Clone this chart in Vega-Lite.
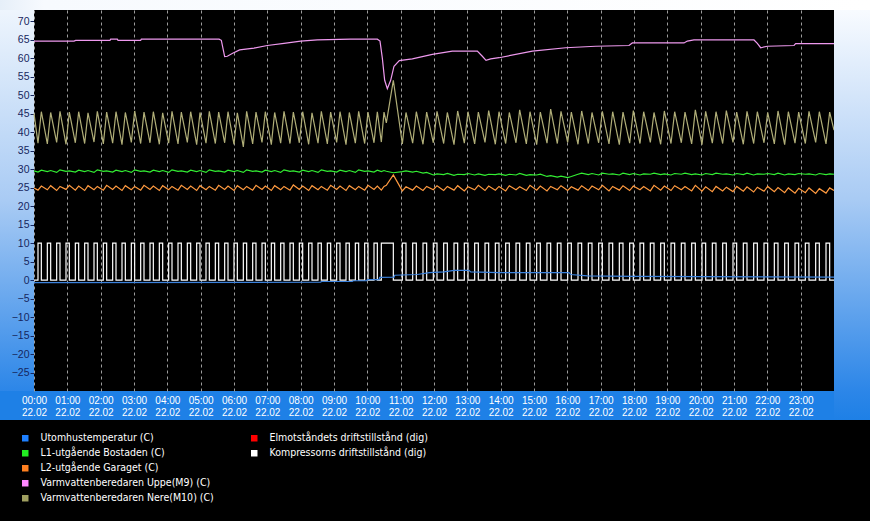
{
  "$schema": "https://vega.github.io/schema/vega-lite/v6.json",
  "background": "#1e80e6",
  "padding": {"left": 0, "top": 0, "right": 0, "bottom": 0},
  "config": {"view": {"stroke": null}},
  "datasets": {
    "ute": [
      {"t": 0, "v": -0.7}, {"t": 8.6, "v": -0.6}, {"t": 8.62, "v": -0.4}, {"t": 9.55, "v": -0.4}, {"t": 9.57, "v": -0.2},
      {"t": 9.98, "v": -0.2}, {"t": 10.0, "v": 0.1}, {"t": 10.35, "v": 0.1}, {"t": 10.37, "v": 0.7}, {"t": 10.8, "v": 0.8},
      {"t": 10.82, "v": 1.3}, {"t": 11.5, "v": 1.5}, {"t": 11.86, "v": 2.0}, {"t": 12.3, "v": 2.2}, {"t": 12.6, "v": 2.6},
      {"t": 13.05, "v": 2.6}, {"t": 13.1, "v": 2.2}, {"t": 13.95, "v": 2.0}, {"t": 16.05, "v": 2.0}, {"t": 16.1, "v": 1.5},
      {"t": 16.6, "v": 1.1}, {"t": 18.0, "v": 1.0}, {"t": 20.0, "v": 0.9}, {"t": 24.0, "v": 0.8}
    ],
    "m9": [
      {"t": 0, "v": 64.6}, {"t": 1.2, "v": 64.6}, {"t": 1.25, "v": 64.8}, {"t": 2.28, "v": 64.8}, {"t": 2.3, "v": 65.1},
      {"t": 2.5, "v": 65.1}, {"t": 2.52, "v": 64.8}, {"t": 3.2, "v": 64.8}, {"t": 3.22, "v": 65.1}, {"t": 5.55, "v": 65.1},
      {"t": 5.62, "v": 64.8}, {"t": 5.72, "v": 60.4}, {"t": 5.8, "v": 60.5}, {"t": 5.96, "v": 61.3}, {"t": 6.17, "v": 62.2},
      {"t": 6.6, "v": 62.7}, {"t": 7.0, "v": 63.4}, {"t": 7.5, "v": 64.0}, {"t": 8.0, "v": 64.6}, {"t": 8.5, "v": 64.9},
      {"t": 9.5, "v": 65.1}, {"t": 10.3, "v": 65.1}, {"t": 10.38, "v": 64.6}, {"t": 10.45, "v": 60.0}, {"t": 10.52, "v": 54.0},
      {"t": 10.6, "v": 51.7}, {"t": 10.7, "v": 54.0}, {"t": 10.8, "v": 57.8}, {"t": 10.96, "v": 59.3}, {"t": 11.35, "v": 59.8},
      {"t": 11.95, "v": 61.0}, {"t": 12.55, "v": 61.9}, {"t": 13.3, "v": 61.9}, {"t": 13.45, "v": 60.5}, {"t": 13.56, "v": 59.4},
      {"t": 13.7, "v": 59.8}, {"t": 13.95, "v": 60.1}, {"t": 14.95, "v": 61.9}, {"t": 15.95, "v": 62.8}, {"t": 16.85, "v": 63.2},
      {"t": 17.85, "v": 63.4}, {"t": 17.95, "v": 64.1}, {"t": 19.5, "v": 64.1}, {"t": 19.6, "v": 64.6}, {"t": 19.8, "v": 64.9},
      {"t": 21.6, "v": 64.9}, {"t": 21.7, "v": 64.0}, {"t": 21.8, "v": 62.8}, {"t": 22.0, "v": 63.2}, {"t": 22.8, "v": 63.4},
      {"t": 22.85, "v": 63.9}, {"t": 24.0, "v": 63.9}
    ],
    "cyc": [
      {"t": 0, "komp": 0, "nere": 45.0, "l2": 24.9, "l1": 29.5},
      {"t": 0.12, "komp": 10, "nere": 37.0, "l2": 24.3, "l1": 29.2}, {"t": 0.22, "komp": 0, "nere": 45.5, "l2": 25.4, "l1": 29.7},
      {"t": 0.40, "komp": 10, "nere": 36.8, "l2": 24.4, "l1": 29.3}, {"t": 0.50, "komp": 0, "nere": 45.3, "l2": 25.5, "l1": 29.6},
      {"t": 0.68, "komp": 10, "nere": 37.2, "l2": 24.2, "l1": 29.1}, {"t": 0.78, "komp": 0, "nere": 45.6, "l2": 25.3, "l1": 29.8},
      {"t": 0.96, "komp": 10, "nere": 36.7, "l2": 24.5, "l1": 29.4}, {"t": 1.06, "komp": 0, "nere": 45.4, "l2": 25.6, "l1": 29.5},
      {"t": 1.24, "komp": 10, "nere": 37.1, "l2": 24.3, "l1": 29.2}, {"t": 1.34, "komp": 0, "nere": 45.5, "l2": 25.4, "l1": 29.7},
      {"t": 1.52, "komp": 10, "nere": 36.9, "l2": 24.2, "l1": 29.3}, {"t": 1.62, "komp": 0, "nere": 45.2, "l2": 25.5, "l1": 29.6},
      {"t": 1.80, "komp": 10, "nere": 37.3, "l2": 24.4, "l1": 29.1}, {"t": 1.90, "komp": 0, "nere": 45.6, "l2": 25.3, "l1": 29.8},
      {"t": 2.08, "komp": 10, "nere": 36.8, "l2": 24.3, "l1": 29.4}, {"t": 2.18, "komp": 0, "nere": 45.4, "l2": 25.6, "l1": 29.5},
      {"t": 2.36, "komp": 10, "nere": 37.0, "l2": 24.5, "l1": 29.2}, {"t": 2.46, "komp": 0, "nere": 45.5, "l2": 25.4, "l1": 29.7},
      {"t": 2.64, "komp": 10, "nere": 36.6, "l2": 24.2, "l1": 29.3}, {"t": 2.74, "komp": 0, "nere": 45.3, "l2": 25.5, "l1": 29.6},
      {"t": 2.92, "komp": 10, "nere": 37.2, "l2": 24.4, "l1": 29.1}, {"t": 3.02, "komp": 0, "nere": 45.7, "l2": 25.3, "l1": 29.8},
      {"t": 3.20, "komp": 10, "nere": 36.9, "l2": 24.3, "l1": 29.4}, {"t": 3.30, "komp": 0, "nere": 45.4, "l2": 25.6, "l1": 29.5},
      {"t": 3.48, "komp": 10, "nere": 37.1, "l2": 24.5, "l1": 29.2}, {"t": 3.58, "komp": 0, "nere": 45.5, "l2": 25.4, "l1": 29.7},
      {"t": 3.76, "komp": 10, "nere": 36.7, "l2": 24.2, "l1": 29.3}, {"t": 3.86, "komp": 0, "nere": 45.2, "l2": 25.5, "l1": 29.6},
      {"t": 4.04, "komp": 10, "nere": 37.0, "l2": 24.4, "l1": 29.1}, {"t": 4.14, "komp": 0, "nere": 45.6, "l2": 25.3, "l1": 29.8},
      {"t": 4.32, "komp": 10, "nere": 36.8, "l2": 24.3, "l1": 29.4}, {"t": 4.42, "komp": 0, "nere": 45.4, "l2": 25.6, "l1": 29.5},
      {"t": 4.60, "komp": 10, "nere": 37.2, "l2": 24.5, "l1": 29.2}, {"t": 4.70, "komp": 0, "nere": 45.5, "l2": 25.4, "l1": 29.7},
      {"t": 4.88, "komp": 10, "nere": 36.6, "l2": 24.2, "l1": 29.3}, {"t": 4.98, "komp": 0, "nere": 45.3, "l2": 25.5, "l1": 29.6},
      {"t": 5.16, "komp": 10, "nere": 37.0, "l2": 24.4, "l1": 29.1}, {"t": 5.26, "komp": 0, "nere": 45.6, "l2": 25.3, "l1": 29.8},
      {"t": 5.44, "komp": 10, "nere": 36.9, "l2": 24.3, "l1": 29.4}, {"t": 5.54, "komp": 0, "nere": 45.4, "l2": 25.6, "l1": 29.5},
      {"t": 5.72, "komp": 10, "nere": 37.1, "l2": 24.5, "l1": 29.2}, {"t": 5.82, "komp": 0, "nere": 45.5, "l2": 25.4, "l1": 29.7},
      {"t": 6.00, "komp": 10, "nere": 36.7, "l2": 24.2, "l1": 29.3}, {"t": 6.10, "komp": 0, "nere": 45.2, "l2": 25.5, "l1": 29.6},
      {"t": 6.28, "komp": 10, "nere": 36.0, "l2": 24.4, "l1": 29.1}, {"t": 6.38, "komp": 0, "nere": 45.6, "l2": 25.3, "l1": 29.8},
      {"t": 6.56, "komp": 10, "nere": 36.8, "l2": 24.3, "l1": 29.4}, {"t": 6.66, "komp": 0, "nere": 45.4, "l2": 25.6, "l1": 29.5},
      {"t": 6.84, "komp": 10, "nere": 37.2, "l2": 24.5, "l1": 29.2}, {"t": 6.94, "komp": 0, "nere": 45.5, "l2": 25.4, "l1": 29.7},
      {"t": 7.12, "komp": 10, "nere": 36.6, "l2": 24.2, "l1": 29.3}, {"t": 7.22, "komp": 0, "nere": 45.3, "l2": 25.5, "l1": 29.6},
      {"t": 7.40, "komp": 10, "nere": 37.0, "l2": 24.4, "l1": 29.1}, {"t": 7.50, "komp": 0, "nere": 45.6, "l2": 25.3, "l1": 29.8},
      {"t": 7.68, "komp": 10, "nere": 36.9, "l2": 24.3, "l1": 29.4}, {"t": 7.78, "komp": 0, "nere": 45.4, "l2": 25.7, "l1": 29.5},
      {"t": 7.96, "komp": 10, "nere": 37.1, "l2": 24.5, "l1": 29.2}, {"t": 8.06, "komp": 0, "nere": 45.5, "l2": 25.4, "l1": 29.7},
      {"t": 8.24, "komp": 10, "nere": 36.7, "l2": 24.2, "l1": 29.3}, {"t": 8.34, "komp": 0, "nere": 45.2, "l2": 25.5, "l1": 29.6},
      {"t": 8.52, "komp": 10, "nere": 37.0, "l2": 24.4, "l1": 29.1}, {"t": 8.62, "komp": 0, "nere": 45.6, "l2": 25.3, "l1": 29.8},
      {"t": 8.80, "komp": 10, "nere": 36.8, "l2": 24.3, "l1": 29.4}, {"t": 8.90, "komp": 0, "nere": 45.4, "l2": 25.6, "l1": 29.5},
      {"t": 9.08, "komp": 10, "nere": 37.2, "l2": 24.5, "l1": 29.2}, {"t": 9.18, "komp": 0, "nere": 45.5, "l2": 25.4, "l1": 29.7},
      {"t": 9.36, "komp": 10, "nere": 36.6, "l2": 24.2, "l1": 29.3}, {"t": 9.46, "komp": 0, "nere": 45.3, "l2": 25.5, "l1": 29.6},
      {"t": 9.64, "komp": 10, "nere": 37.0, "l2": 24.4, "l1": 29.1}, {"t": 9.74, "komp": 0, "nere": 45.6, "l2": 25.3, "l1": 29.8},
      {"t": 9.92, "komp": 10, "nere": 36.9, "l2": 24.3, "l1": 29.4}, {"t": 10.02, "komp": 0, "nere": 45.4, "l2": 25.6, "l1": 29.5},
      {"t": 10.20, "komp": 10, "nere": 37.1, "l2": 24.5, "l1": 29.2}, {"t": 10.30, "komp": 0, "nere": 45.5, "l2": 25.4, "l1": 29.7},
      {"t": 10.42, "komp": 10, "nere": 37.3, "l2": 24.3, "l1": 29.3}, {"t": 10.50, "komp": 10, "nere": 45.4, "l2": 25.3, "l1": 29.6},
      {"t": 10.57, "komp": 10, "nere": 42.5, "l2": 25.6, "l1": 29.4}, {"t": 10.78, "komp": 0, "nere": 54.0, "l2": 28.4, "l1": 29.0},
      {"t": 11.05, "komp": 10, "nere": 36.8, "l2": 24.1, "l1": 29.3}, {"t": 11.16, "komp": 0, "nere": 45.3, "l2": 25.2, "l1": 29.5},
      {"t": 11.36, "komp": 10, "nere": 37.0, "l2": 24.3, "l1": 29.2}, {"t": 11.47, "komp": 0, "nere": 45.5, "l2": 25.4, "l1": 29.4},
      {"t": 11.67, "komp": 10, "nere": 36.7, "l2": 24.2, "l1": 28.9}, {"t": 11.78, "komp": 0, "nere": 45.4, "l2": 25.3, "l1": 29.1},
      {"t": 11.98, "komp": 10, "nere": 37.1, "l2": 24.4, "l1": 28.4}, {"t": 12.09, "komp": 0, "nere": 45.6, "l2": 25.5, "l1": 28.7},
      {"t": 12.29, "komp": 10, "nere": 36.9, "l2": 24.2, "l1": 28.5}, {"t": 12.40, "komp": 0, "nere": 45.3, "l2": 25.3, "l1": 28.8},
      {"t": 12.60, "komp": 10, "nere": 36.6, "l2": 24.3, "l1": 28.3}, {"t": 12.71, "komp": 0, "nere": 45.7, "l2": 25.5, "l1": 28.6},
      {"t": 12.91, "komp": 10, "nere": 37.0, "l2": 24.1, "l1": 28.5}, {"t": 13.02, "komp": 0, "nere": 45.5, "l2": 25.2, "l1": 28.8},
      {"t": 13.22, "komp": 10, "nere": 36.8, "l2": 24.4, "l1": 28.4}, {"t": 13.33, "komp": 0, "nere": 45.4, "l2": 25.6, "l1": 28.7},
      {"t": 13.53, "komp": 10, "nere": 37.2, "l2": 24.2, "l1": 28.3}, {"t": 13.64, "komp": 0, "nere": 45.8, "l2": 25.4, "l1": 28.6},
      {"t": 13.84, "komp": 10, "nere": 36.7, "l2": 24.3, "l1": 28.5}, {"t": 13.95, "komp": 0, "nere": 45.5, "l2": 25.3, "l1": 28.7},
      {"t": 14.15, "komp": 10, "nere": 36.9, "l2": 24.1, "l1": 28.3}, {"t": 14.26, "komp": 0, "nere": 45.3, "l2": 25.5, "l1": 28.6},
      {"t": 14.46, "komp": 10, "nere": 37.1, "l2": 24.4, "l1": 28.4}, {"t": 14.57, "komp": 0, "nere": 46.0, "l2": 25.2, "l1": 28.8},
      {"t": 14.77, "komp": 10, "nere": 36.8, "l2": 24.2, "l1": 28.3}, {"t": 14.88, "komp": 0, "nere": 45.5, "l2": 25.6, "l1": 28.5},
      {"t": 15.08, "komp": 10, "nere": 36.6, "l2": 24.3, "l1": 28.4}, {"t": 15.19, "komp": 0, "nere": 45.4, "l2": 25.4, "l1": 28.6},
      {"t": 15.39, "komp": 10, "nere": 37.0, "l2": 24.1, "l1": 28.0}, {"t": 15.50, "komp": 0, "nere": 46.2, "l2": 25.3, "l1": 28.2},
      {"t": 15.70, "komp": 10, "nere": 36.9, "l2": 24.4, "l1": 27.8}, {"t": 15.81, "komp": 0, "nere": 45.6, "l2": 25.5, "l1": 28.1},
      {"t": 16.01, "komp": 10, "nere": 37.2, "l2": 24.2, "l1": 27.7}, {"t": 16.12, "komp": 0, "nere": 45.4, "l2": 25.2, "l1": 28.0},
      {"t": 16.32, "komp": 10, "nere": 36.7, "l2": 24.3, "l1": 28.6}, {"t": 16.43, "komp": 0, "nere": 45.7, "l2": 25.5, "l1": 28.9},
      {"t": 16.63, "komp": 10, "nere": 36.9, "l2": 24.2, "l1": 28.5}, {"t": 16.74, "komp": 0, "nere": 45.3, "l2": 25.4, "l1": 28.8},
      {"t": 16.94, "komp": 10, "nere": 37.1, "l2": 24.4, "l1": 28.4}, {"t": 17.05, "komp": 0, "nere": 45.6, "l2": 25.6, "l1": 28.9},
      {"t": 17.25, "komp": 10, "nere": 36.8, "l2": 24.1, "l1": 28.6}, {"t": 17.36, "komp": 0, "nere": 45.5, "l2": 25.3, "l1": 28.7},
      {"t": 17.56, "komp": 10, "nere": 36.6, "l2": 24.3, "l1": 28.4}, {"t": 17.67, "komp": 0, "nere": 45.4, "l2": 25.5, "l1": 28.9},
      {"t": 17.87, "komp": 10, "nere": 37.0, "l2": 24.2, "l1": 28.5}, {"t": 17.98, "komp": 0, "nere": 45.8, "l2": 25.4, "l1": 28.8},
      {"t": 18.18, "komp": 10, "nere": 36.9, "l2": 24.4, "l1": 28.4}, {"t": 18.29, "komp": 0, "nere": 45.5, "l2": 25.3, "l1": 28.7},
      {"t": 18.49, "komp": 10, "nere": 37.2, "l2": 24.1, "l1": 28.6}, {"t": 18.60, "komp": 0, "nere": 45.3, "l2": 25.6, "l1": 28.9},
      {"t": 18.80, "komp": 10, "nere": 36.7, "l2": 24.3, "l1": 28.5}, {"t": 18.91, "komp": 0, "nere": 45.7, "l2": 25.4, "l1": 28.7},
      {"t": 19.11, "komp": 10, "nere": 36.9, "l2": 24.2, "l1": 28.4}, {"t": 19.22, "komp": 0, "nere": 45.5, "l2": 25.5, "l1": 28.8},
      {"t": 19.42, "komp": 10, "nere": 37.1, "l2": 24.4, "l1": 28.6}, {"t": 19.53, "komp": 0, "nere": 45.4, "l2": 25.3, "l1": 28.9},
      {"t": 19.73, "komp": 10, "nere": 36.8, "l2": 24.1, "l1": 28.5}, {"t": 19.84, "komp": 0, "nere": 46.0, "l2": 25.6, "l1": 28.7},
      {"t": 20.04, "komp": 10, "nere": 36.6, "l2": 24.0, "l1": 28.4}, {"t": 20.15, "komp": 0, "nere": 45.6, "l2": 25.2, "l1": 28.8},
      {"t": 20.35, "komp": 10, "nere": 37.0, "l2": 23.9, "l1": 28.5}, {"t": 20.46, "komp": 0, "nere": 45.5, "l2": 25.3, "l1": 28.9},
      {"t": 20.66, "komp": 10, "nere": 36.9, "l2": 24.1, "l1": 28.6}, {"t": 20.77, "komp": 0, "nere": 45.8, "l2": 25.1, "l1": 28.7},
      {"t": 20.97, "komp": 10, "nere": 37.2, "l2": 23.9, "l1": 28.4}, {"t": 21.08, "komp": 0, "nere": 45.4, "l2": 25.3, "l1": 28.8},
      {"t": 21.28, "komp": 10, "nere": 36.7, "l2": 24.0, "l1": 28.5}, {"t": 21.39, "komp": 0, "nere": 45.6, "l2": 25.2, "l1": 28.9},
      {"t": 21.59, "komp": 10, "nere": 36.9, "l2": 23.8, "l1": 28.4}, {"t": 21.70, "komp": 0, "nere": 45.5, "l2": 25.1, "l1": 28.7},
      {"t": 21.90, "komp": 10, "nere": 37.1, "l2": 24.0, "l1": 28.6}, {"t": 22.01, "komp": 0, "nere": 45.3, "l2": 25.3, "l1": 28.8},
      {"t": 22.21, "komp": 10, "nere": 36.8, "l2": 23.9, "l1": 28.5}, {"t": 22.32, "komp": 0, "nere": 45.7, "l2": 25.0, "l1": 28.9},
      {"t": 22.52, "komp": 10, "nere": 36.6, "l2": 23.6, "l1": 28.4}, {"t": 22.63, "komp": 0, "nere": 45.5, "l2": 24.9, "l1": 28.7},
      {"t": 22.83, "komp": 10, "nere": 37.0, "l2": 23.5, "l1": 28.5}, {"t": 22.94, "komp": 0, "nere": 45.4, "l2": 24.8, "l1": 28.8},
      {"t": 23.14, "komp": 10, "nere": 36.9, "l2": 23.6, "l1": 28.6}, {"t": 23.25, "komp": 0, "nere": 45.6, "l2": 24.9, "l1": 28.7},
      {"t": 23.45, "komp": 10, "nere": 37.2, "l2": 23.4, "l1": 28.4}, {"t": 23.56, "komp": 0, "nere": 45.5, "l2": 24.7, "l1": 28.8},
      {"t": 23.76, "komp": 10, "nere": 36.8, "l2": 23.5, "l1": 28.5}, {"t": 23.87, "komp": 0, "nere": 45.4, "l2": 24.9, "l1": 28.7},
      {"t": 24.0, "komp": 0, "nere": 40.5, "l2": 24.2, "l1": 28.6}
    ],
    "legendA": [
      {"serie": "Utomhustemperatur (C)"}, {"serie": "L1-utgående Bostaden (C)"}, {"serie": "L2-utgående Garaget (C)"},
      {"serie": "Varmvattenberedaren Uppe(M9) (C)"}, {"serie": "Varmvattenberedaren Nere(M10) (C)"}
    ],
    "legendB": [
      {"serie": "Elmotståndets driftstillstånd (dig)"}, {"serie": "Kompressorns driftstillstånd (dig)"}
    ]
  },
  "spacing": 0,
  "vconcat": [
    {
      "width": 870,
      "height": 10,
      "view": {"fill": {"gradient": "linear", "x1": 0, "y1": 0, "x2": 1, "y2": 0, "stops": [{"offset": 0, "color": "#e6eff9"}, {"offset": 0.05, "color": "#f7fafe"}, {"offset": 1, "color": "#ffffff"}]}, "stroke": null},
      "data": {"name": "legendB"},
      "mark": {"type": "point", "opacity": 0},
      "encoding": {}
    },
    {
      "hconcat": [
        {
          "width": 34,
          "height": 381,
          "view": {"fill": {"gradient": "linear", "x1": 0, "y1": 0, "x2": 0, "y2": 1, "stops": [{"offset": 0, "color": "#eef5fd"}, {"offset": 0.5, "color": "#a9cbf4"}, {"offset": 1, "color": "#2c86e8"}]}, "stroke": null},
          "data": {"name": "ute"},
          "mark": {"type": "point", "opacity": 0},
          "encoding": {
            "y": {
              "field": "v", "type": "quantitative", "title": null,
              "scale": {"domain": [-30, 73], "nice": false, "zero": false},
              "axis": {
                "orient": "left", "offset": -34,
                "values": [-25, -20, -15, -10, -5, 0, 5, 10, 15, 20, 25, 30, 35, 40, 45, 50, 55, 60, 65, 70],
                "labelColor": "#16265e", "labelFont": "Liberation Sans", "labelFontSize": 10.5,
                "tickColor": "#16265e", "tickSize": 4, "labelPadding": 1,
                "domain": false, "grid": false, "title": null
              }
            }
          }
        },
        {
          "width": 800,
          "height": 381,
          "view": {"fill": "#000000", "stroke": null},
          "encoding": {
            "x": {
              "field": "t", "type": "quantitative", "title": null,
              "scale": {"domain": [0, 24], "nice": false, "zero": false},
              "axis": {
                "values": [0, 1, 2, 3, 4, 5, 6, 7, 8, 9, 10, 11, 12, 13, 14, 15, 16, 17, 18, 19, 20, 21, 22, 23],
                "labelExpr": "[(datum.value < 10 ? '0' : '') + datum.value + ':00', '22.02']",
                "labelColor": "#ffffff", "labelFont": "Liberation Sans", "labelFontSize": 10,
                "labelLineHeight": 12, "labelBaseline": "top", "labelPadding": 4, "labelOverlap": false,
                "labelFlush": false, "labelBound": false,
                "ticks": false, "domain": false,
                "grid": true, "gridColor": "#9c9c9c", "gridDash": [3, 3], "gridWidth": 1,
                "title": null
              }
            }
          },
          "layer": [
            {
              "data": {"name": "cyc"},
              "mark": {"type": "line", "color": "#ffffff", "strokeWidth": 1.2, "interpolate": "step-after"},
              "encoding": {
                "y": {
                  "field": "komp", "type": "quantitative", "title": null,
                  "scale": {"domain": [-30, 73], "nice": false, "zero": false},
                  "axis": {
                    "values": [-25, -20, -15, -10, -5, 0, 5, 10, 15, 20, 25, 30, 35, 40, 45, 50, 55, 60, 65, 70],
                    "labels": false, "ticks": false, "domain": false,
                    "grid": true, "gridColor": "#9c9c9c", "gridDash": [3, 3], "gridWidth": 1, "title": null
                  }
                }
              }
            },
            {
              "data": {"name": "cyc"},
              "mark": {"type": "line", "color": "#ff9a40", "strokeWidth": 1.2},
              "encoding": {"y": {"field": "l2", "type": "quantitative", "title": null, "scale": {"domain": [-30, 73], "nice": false, "zero": false}, "axis": null}}
            },
            {
              "data": {"name": "cyc"},
              "mark": {"type": "line", "color": "#33ee33", "strokeWidth": 1.2},
              "encoding": {"y": {"field": "l1", "type": "quantitative", "title": null, "scale": {"domain": [-30, 73], "nice": false, "zero": false}, "axis": null}}
            },
            {
              "data": {"name": "cyc"},
              "mark": {"type": "line", "color": "#b0ae78", "strokeWidth": 1.2},
              "encoding": {"y": {"field": "nere", "type": "quantitative", "title": null, "scale": {"domain": [-30, 73], "nice": false, "zero": false}, "axis": null}}
            },
            {
              "data": {"name": "m9"},
              "mark": {"type": "line", "color": "#ee99ee", "strokeWidth": 1.2},
              "encoding": {"y": {"field": "v", "type": "quantitative", "title": null, "scale": {"domain": [-30, 73], "nice": false, "zero": false}, "axis": null}}
            },
            {
              "data": {"name": "ute"},
              "mark": {"type": "line", "color": "#3c82dc", "strokeWidth": 1.2},
              "encoding": {"y": {"field": "v", "type": "quantitative", "title": null, "scale": {"domain": [-30, 73], "nice": false, "zero": false}, "axis": null}}
            }
          ]
        },
        {
          "width": 36,
          "height": 410,
          "view": {"fill": {"gradient": "linear", "x1": 0, "y1": 0, "x2": 0, "y2": 1, "stops": [{"offset": 0, "color": "#f8fbff"}, {"offset": 0.46, "color": "#a9cbf4"}, {"offset": 0.93, "color": "#2c86e8"}, {"offset": 1, "color": "#1e80e6"}]}, "stroke": null},
          "data": {"name": "legendB"},
          "mark": {"type": "point", "opacity": 0},
          "encoding": {}
        }
      ],
      "spacing": 0,
      "bounds": "flush"
    },
    {
      "width": 870,
      "height": 101,
      "view": {"fill": "#000000", "stroke": null},
      "layer": [
        {
          "data": {"name": "legendA"},
          "mark": {"type": "square", "size": 0, "opacity": 1},
          "encoding": {
            "color": {
              "field": "serie", "type": "nominal",
              "scale": {
                "domain": ["Utomhustemperatur (C)", "L1-utgående Bostaden (C)", "L2-utgående Garaget (C)", "Varmvattenberedaren Uppe(M9) (C)", "Varmvattenberedaren Nere(M10) (C)"],
                "range": ["#1e80ff", "#22ee22", "#ff8020", "#ff88ff", "#a0a060"]
              },
              "legend": {
                "orient": "none", "legendX": 20, "legendY": 13, "title": null,
                "symbolType": "square", "symbolSize": 42, "symbolStrokeWidth": 0, "symbolOpacity": 1,
                "labelColor": "#ffffff", "labelFont": "DejaVu Sans Condensed, Liberation Sans, sans-serif",
                "labelFontSize": 10.5, "labelOffset": 10, "labelLimit": 400, "rowPadding": 4, "padding": 0
              }
            }
          }
        },
        {
          "data": {"name": "legendB"},
          "mark": {"type": "square", "size": 0, "opacity": 1},
          "encoding": {
            "color": {
              "field": "serie", "type": "nominal",
              "scale": {
                "domain": ["Elmotståndets driftstillstånd (dig)", "Kompressorns driftstillstånd (dig)"],
                "range": ["#ff0000", "#ffffff"]
              },
              "legend": {
                "orient": "none", "legendX": 249, "legendY": 13, "title": null,
                "symbolType": "square", "symbolSize": 42, "symbolStrokeWidth": 0, "symbolOpacity": 1,
                "labelColor": "#ffffff", "labelFont": "DejaVu Sans Condensed, Liberation Sans, sans-serif",
                "labelFontSize": 10.5, "labelOffset": 10, "labelLimit": 400, "rowPadding": 4, "padding": 0
              }
            }
          }
        }
      ],
      "resolve": {"scale": {"color": "independent"}}
    }
  ]
}
